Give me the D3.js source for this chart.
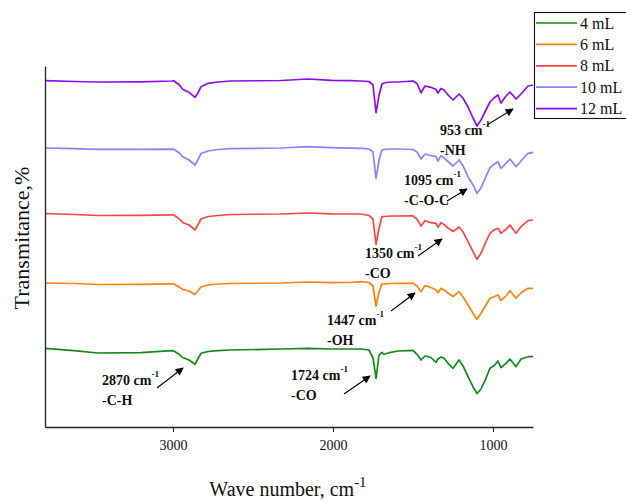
<!DOCTYPE html>
<html>
<head>
<meta charset="utf-8">
<script src="https://cdn.jsdelivr.net/npm/d3@7"></script>
<style>
  body { margin: 0; background: #fff; }
  svg { display: block; }
</style>
</head>
<body>
<svg id="chart" width="626" height="502"></svg>
<script>
// FTIR spectra of the samples (wave number in cm^-1, transmittance in relative units, stacked)
const wavenumbers = [3800, 3620, 3470, 3200, 3010, 2995, 2960, 2940, 2900, 2862, 2845, 2825, 2780, 2720, 2640, 2325, 2155, 2010, 1890,
  1825, 1775, 1750, 1731, 1712, 1694, 1681, 1638, 1594, 1500, 1475, 1450, 1425, 1388, 1356, 1344, 1325, 1306, 1281, 1250,
  1212, 1188, 1156, 1125, 1100, 1075, 1044, 1019, 994, 969, 950, 919, 894, 856, 825, 781, 750];

const t4mL = [7.87, 7.63, 7.4, 7.43, 7.63, 7.6, 7.25, 6.95, 6.7, 6.27, 6.8, 7.37, 7.55, 7.63, 7.7, 7.8, 7.87, 7.8, 7.8,
  7.8, 7.7, 6.9, 4.87, 7.2, 7.47, 7.27, 7.47, 7.6, 7.67, 7.27, 6.7, 7.1, 6.95, 6.47, 6.8, 7.0, 6.87, 6.37, 5.87,
  6.7, 6.13, 5.03, 4.03, 3.35, 3.8, 4.87, 5.87, 6.13, 6.6, 5.93, 6.37, 6.8, 6.03, 6.8, 7.03, 7.03];

const t6mL = [14.4, 14.35, 14.25, 14.27, 14.32, 14.3, 14.0, 13.75, 13.6, 13.25, 13.6, 14.0, 14.2, 14.3, 14.35, 14.4, 14.5, 14.43, 14.45,
  14.53, 14.45, 14.1, 12.1, 13.5, 14.3, 14.3, 14.35, 14.37, 14.37, 14.1, 13.53, 14.15, 13.95, 13.7, 13.43, 13.87, 13.7, 13.4, 13.05,
  13.53, 13.03, 12.2, 11.37, 10.77, 11.37, 12.2, 12.87, 13.03, 13.2, 12.63, 13.1, 13.63, 12.87, 13.43, 13.87, 13.87];

const t8mL = [21.35, 21.25, 21.15, 21.17, 21.22, 21.2, 20.8, 20.45, 20.2, 19.7, 20.2, 20.8, 21.05, 21.15, 21.25, 21.3, 21.4, 21.32, 21.3,
  21.3, 21.15, 20.8, 18.27, 19.9, 21.03, 21.05, 21.1, 21.1, 21.12, 20.8, 20.1, 20.63, 20.43, 20.37, 19.97, 20.43, 20.25, 19.9, 19.55,
  20.0, 19.53, 18.53, 17.53, 16.77, 17.37, 18.53, 19.37, 19.7, 19.87, 19.37, 19.77, 20.2, 19.37, 20.03, 20.63, 20.7];

const t10mL = [27.9, 27.83, 27.77, 27.77, 27.78, 27.77, 27.4, 27.03, 26.7, 26.2, 26.7, 27.35, 27.6, 27.75, 27.83, 27.9, 28.03, 27.93, 27.88,
  27.87, 27.8, 27.5, 24.87, 26.7, 27.7, 27.75, 27.8, 27.8, 27.75, 27.5, 26.8, 27.3, 27.13, 27.03, 26.6, 27.13, 26.9, 26.55, 26.1,
  26.7, 26.15, 25.03, 24.2, 23.37, 23.9, 25.03, 25.93, 26.27, 26.53, 25.87, 26.37, 26.8, 26.03, 26.6, 27.37, 27.47];

const t12mL = [34.63, 34.55, 34.5, 34.52, 34.6, 34.62, 34.2, 33.77, 33.47, 32.97, 33.37, 34.03, 34.37, 34.5, 34.6, 34.65, 34.8, 34.67, 34.63,
  34.6, 34.55, 34.2, 31.43, 33.2, 34.3, 34.4, 34.5, 34.5, 34.6, 34.35, 33.43, 34.1, 33.97, 33.75, 33.4, 33.85, 33.7, 33.2, 32.7,
  33.3, 32.9, 32.0, 30.9, 30.1, 30.7, 31.7, 32.5, 32.9, 33.2, 32.4, 33.1, 33.5, 32.8, 33.3, 34.1, 34.2];

const seriesNames = ["4 mL", "6 mL", "8 mL", "10 mL", "12 mL"];
const seriesValues = [t4mL, t6mL, t8mL, t10mL, t12mL];
const seriesColors = ["#13891a", "#ff8210", "#ff4545", "#8585ff", "#8e0cf5"];

const xTickValues = [3000, 2000, 1000];

// Band assignments: wave number, group, label placement and arrow
const bandLabels = [
  { band: "2870", group: "-C-H",   x: 102, y: 385, arrow: [157, 388, 183, 368] },
  { band: "1724", group: "-CO",    x: 291, y: 380, arrow: [344, 394, 370, 376] },
  { band: "1447", group: "-OH",    x: 327, y: 325, arrow: [391, 311, 415, 293] },
  { band: "1350", group: "-CO",    x: 365, y: 258, arrow: [418, 256, 442, 239] },
  { band: "1095", group: "-C-O-C", x: 404, y: 185, arrow: [447, 201, 467, 189] },
  { band: "953",  group: "-NH",    x: 440, y: 135, arrow: [487, 125, 513, 109] }
];

const svg = d3.select("#chart");
const serif = "'Liberation Serif', 'Times New Roman', Times, serif";

const x = d3.scaleLinear().domain([3800, 750]).range([45, 533]);
const y = d3.scaleLinear().domain([0, 36]).range([427, 67]);

// arrowhead marker
svg.append("defs").append("marker")
  .attr("id", "arrowhead")
  .attr("viewBox", "0 0 10 10")
  .attr("refX", 9).attr("refY", 5)
  .attr("markerUnits", "userSpaceOnUse")
  .attr("markerWidth", 9).attr("markerHeight", 8)
  .attr("orient", "auto")
  .append("path").attr("d", "M0,0 L10,5 L0,10 Z").attr("fill", "#000");

// spectra
const line = d3.line()
  .x(d => x(d[0]))
  .y(d => y(d[1]));

seriesValues.forEach((vals, i) => {
  const pts = wavenumbers.map((w, k) => [w, vals[k]]);
  svg.append("path")
    .datum(pts)
    .attr("fill", "none")
    .attr("stroke", seriesColors[i])
    .attr("stroke-width", 1.7)
    .attr("stroke-linejoin", "round")
    .attr("d", line);
});

// axes
const xAxis = svg.append("g")
  .attr("transform", "translate(0,427)")
  .call(d3.axisBottom(x).tickValues(xTickValues).tickSize(5).tickSizeOuter(0).tickPadding(8).tickFormat(d3.format("d")));
xAxis.select(".domain").attr("stroke", "#222").attr("stroke-width", 1.3);
xAxis.selectAll(".tick line").attr("stroke", "#222").attr("stroke-width", 1.1);
xAxis.selectAll(".tick text").attr("font-family", serif).attr("font-size", 14).attr("fill", "#111");

const yAxis = svg.append("g")
  .attr("transform", "translate(45,0)")
  .call(d3.axisLeft(d3.scaleLinear().domain([0, 1]).range([427, 66])).tickValues([]).tickSizeOuter(0));
yAxis.select(".domain").attr("stroke", "#222").attr("stroke-width", 1.3);

// axis titles
const xTitle = svg.append("text")
  .attr("x", 288).attr("y", 496)
  .attr("text-anchor", "middle")
  .attr("font-family", serif).attr("font-size", 20).attr("fill", "#111");
xTitle.append("tspan").text("Wave number, cm");
xTitle.append("tspan").attr("font-size", 15).attr("dy", -9).text("-1");

svg.append("text")
  .attr("transform", "translate(29,238) rotate(-90)")
  .attr("text-anchor", "middle")
  .attr("font-family", serif).attr("font-size", 22).attr("fill", "#111")
  .text("Transmitance,%");

// band annotations
const ann = svg.append("g").attr("font-family", serif).attr("font-weight", "bold").attr("fill", "#111");
bandLabels.forEach(b => {
  const t = ann.append("text").attr("x", b.x).attr("y", b.y).attr("font-size", 14);
  t.append("tspan").text(b.band + " cm");
  t.append("tspan").attr("font-size", 9).attr("dy", -8).text("-1");
  ann.append("text").attr("x", b.x).attr("y", b.y + 20).attr("font-size", 14).text(b.group);
  ann.append("line")
    .attr("x1", b.arrow[0]).attr("y1", b.arrow[1])
    .attr("x2", b.arrow[2]).attr("y2", b.arrow[3])
    .attr("stroke", "#000").attr("stroke-width", 1.1)
    .attr("marker-end", "url(#arrowhead)");
});

// legend
const legend = svg.append("g");
legend.append("rect")
  .attr("x", 534.5).attr("y", 12.5).attr("width", 120).attr("height", 106)
  .attr("fill", "#fff").attr("stroke", "#111").attr("stroke-width", 1.1);
seriesNames.forEach((name, i) => {
  const cy = 23 + i * 21.4;
  legend.append("line")
    .attr("x1", 536).attr("x2", 577).attr("y1", cy).attr("y2", cy)
    .attr("stroke", seriesColors[i]).attr("stroke-width", 1.7);
  legend.append("text")
    .attr("x", 580).attr("y", cy).attr("dy", "0.35em")
    .attr("font-family", serif).attr("font-size", 16).attr("fill", "#111")
    .text(name);
});
</script>
</body>
</html>
